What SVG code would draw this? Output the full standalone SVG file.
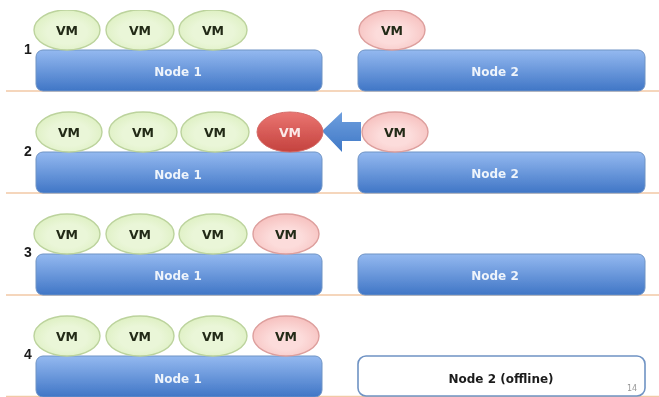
<svg xmlns="http://www.w3.org/2000/svg" width="659" height="397" viewBox="0 0 659 397">
<style>
text{font-family:"DejaVu Sans","Liberation Sans",sans-serif;font-weight:700;text-anchor:middle}
.n{fill:url(#blue);stroke:#6f93c4;stroke-width:1}
.nt{fill:#eef4fb;font-size:12px}
.g{fill:url(#green);stroke:#bcd39d;stroke-width:1.4}
.p{fill:url(#pink);stroke:#dd9f9d;stroke-width:1.4}
.r{fill:url(#red);stroke:#d46a66;stroke-width:1}
.vt{fill:#232a18;font-size:12.500px}
.num{fill:#1a1a1a;font-size:14px;font-family:"Liberation Sans",sans-serif}
.l{stroke:#f2c9a6;stroke-width:1.3}
</style>
<defs>
<linearGradient id="blue" x1="0" y1="0" x2="0" y2="1"><stop offset="0" stop-color="#94b9f0"/><stop offset="1" stop-color="#4076c6"/></linearGradient>
<radialGradient id="green" cx="0.5" cy="0.55" r="0.6"><stop offset="0.5" stop-color="#eaf6d8"/><stop offset="1" stop-color="#dcefbf"/></radialGradient>
<radialGradient id="pink" cx="0.5" cy="0.6" r="0.6"><stop offset="0.4" stop-color="#fcdcdb"/><stop offset="1" stop-color="#f6c0be"/></radialGradient>
<linearGradient id="red" x1="0" y1="0" x2="0" y2="1"><stop offset="0" stop-color="#ea7571"/><stop offset="1" stop-color="#c4423e"/></linearGradient>
<linearGradient id="arrow" x1="0" y1="0" x2="0" y2="1"><stop offset="0" stop-color="#6f9fde"/><stop offset="1" stop-color="#3f78c6"/></linearGradient>
<filter id="soft" x="0" y="0" width="100%" height="100%"><feGaussianBlur stdDeviation="0.4"/></filter>
</defs>
<g filter="url(#soft)">
<g id="connectors">
<line class="l" x1="6" y1="91" x2="659" y2="91"/>
<line class="l" x1="6" y1="193" x2="659" y2="193"/>
<line class="l" x1="6" y1="295" x2="659" y2="295"/>
<line class="l" x1="6" y1="396.500" x2="659" y2="396.500"/>
<polygon id="arrow-move" points="322,131 342,112 342,122 361,122 361,141 342,141 342,152" fill="url(#arrow)"/>
</g>
<text class="num" x="28" y="54">1</text>
<text class="num" x="28" y="156">2</text>
<text class="num" x="28" y="257">3</text>
<text class="num" x="28" y="359">4</text>

<g id="r1-node1"><rect class="n" x="36" y="50" width="286" height="41" rx="7"/><text class="nt" x="178" y="76">Node 1</text></g>
<g id="r1-node2"><rect class="n" x="358" y="50" width="287" height="41" rx="7"/><text class="nt" x="495" y="76">Node 2</text></g>
<g id="r1-vm1"><ellipse class="g" cx="67" cy="30" rx="33" ry="20"/><text class="vt" x="67" y="34.500">VM</text></g>
<g id="r1-vm2"><ellipse class="g" cx="140" cy="30" rx="34" ry="20"/><text class="vt" x="140" y="34.500">VM</text></g>
<g id="r1-vm3"><ellipse class="g" cx="213" cy="30" rx="34" ry="20"/><text class="vt" x="213" y="34.500">VM</text></g>
<g id="r1-vm4"><ellipse class="p" cx="392" cy="30" rx="33" ry="20"/><text class="vt" x="392" y="34.500">VM</text></g>

<g id="r2-node1"><rect class="n" x="36" y="152" width="286" height="41" rx="7"/><text class="nt" x="178" y="178.500">Node 1</text></g>
<g id="r2-node2"><rect class="n" x="358" y="152" width="287" height="41" rx="7"/><text class="nt" x="495" y="178">Node 2</text></g>
<g id="r2-vm1"><ellipse class="g" cx="69" cy="132" rx="33" ry="20"/><text class="vt" x="69" y="136.500">VM</text></g>
<g id="r2-vm2"><ellipse class="g" cx="143" cy="132" rx="34" ry="20"/><text class="vt" x="143" y="136.500">VM</text></g>
<g id="r2-vm3"><ellipse class="g" cx="215" cy="132" rx="34" ry="20"/><text class="vt" x="215" y="136.500">VM</text></g>
<g id="r2-vm4"><ellipse class="r" cx="290" cy="132" rx="33" ry="20"/><text class="vt" style="fill:#fbe9e8" x="290" y="136.500">VM</text></g>
<g id="r2-vm5"><ellipse class="p" cx="395" cy="132" rx="33" ry="20"/><text class="vt" x="395" y="136.500">VM</text></g>

<g id="r3-node1"><rect class="n" x="36" y="254" width="286" height="41" rx="7"/><text class="nt" x="178" y="280">Node 1</text></g>
<g id="r3-node2"><rect class="n" x="358" y="254" width="287" height="41" rx="7"/><text class="nt" x="495" y="280">Node 2</text></g>
<g id="r3-vm1"><ellipse class="g" cx="67" cy="234" rx="33" ry="20"/><text class="vt" x="67" y="238.500">VM</text></g>
<g id="r3-vm2"><ellipse class="g" cx="140" cy="234" rx="34" ry="20"/><text class="vt" x="140" y="238.500">VM</text></g>
<g id="r3-vm3"><ellipse class="g" cx="213" cy="234" rx="34" ry="20"/><text class="vt" x="213" y="238.500">VM</text></g>
<g id="r3-vm4"><ellipse class="p" cx="286" cy="234" rx="33" ry="20"/><text class="vt" x="286" y="238.500">VM</text></g>

<g id="r4-node1"><rect class="n" x="36" y="356" width="286" height="41" rx="7"/><text class="nt" x="178" y="382.500">Node 1</text></g>
<g id="r4-node2"><rect x="358" y="356" width="287" height="40" rx="8" fill="#fff" stroke="#6f93c4" stroke-width="1.6"/><text x="501" y="382.500" fill="#1a1a1a" font-size="12px">Node 2 (offline)</text></g>
<g id="r4-vm1"><ellipse class="g" cx="67" cy="336" rx="33" ry="20"/><text class="vt" x="67" y="341">VM</text></g>
<g id="r4-vm2"><ellipse class="g" cx="140" cy="336" rx="34" ry="20"/><text class="vt" x="140" y="341">VM</text></g>
<g id="r4-vm3"><ellipse class="g" cx="213" cy="336" rx="34" ry="20"/><text class="vt" x="213" y="341">VM</text></g>
<g id="r4-vm4"><ellipse class="p" cx="286" cy="336" rx="33" ry="20"/><text class="vt" x="286" y="341">VM</text></g>
<text x="632" y="391" fill="#999" font-size="8px" style="font-weight:400">14</text>
</g>
</svg>
